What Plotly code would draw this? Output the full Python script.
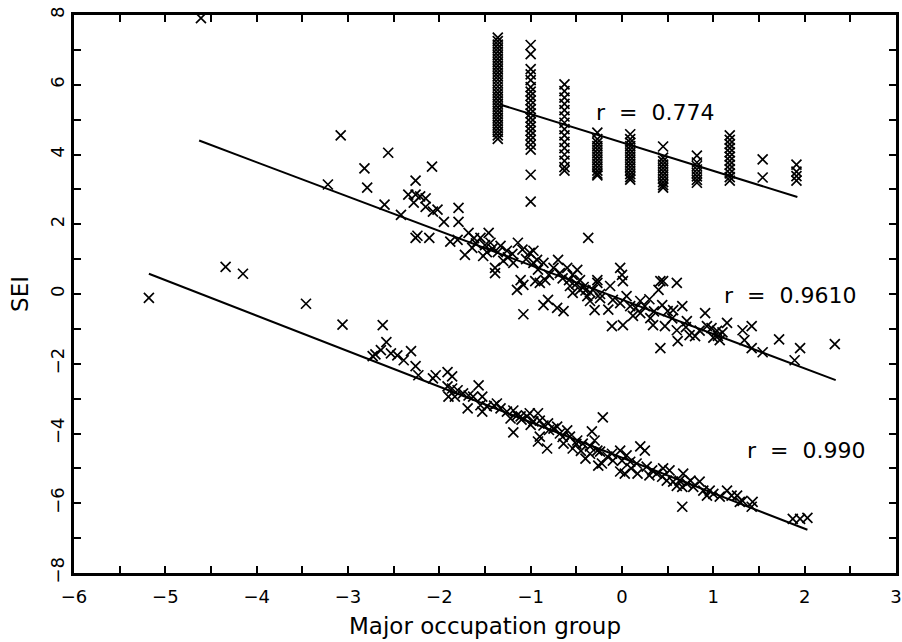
import plotly.graph_objects as go

# ---------------- data ----------------
# top cluster (r = 0.774): discrete x columns
top_cols_x = [-1.36, -1.00, -0.63, -0.27, 0.09, 0.45, 0.82, 1.18, 1.54, 1.91]
top_cols_y = [
    [7.35, 7.25, 7.15, 7.05, 6.95, 6.85, 6.75, 6.65, 6.55, 6.45, 6.35, 6.25, 6.15, 6.05, 5.95,
     5.85, 5.75, 5.65, 5.55, 5.45, 5.35, 5.25, 5.15, 5.05, 4.95, 4.85, 4.75, 4.65, 4.55, 4.45],
    [7.14, 6.88, 6.45, 6.30, 6.13, 5.93, 5.80, 5.68, 5.55, 5.42, 5.30, 5.18, 5.05, 4.93, 4.80,
     4.68, 4.55, 4.42, 4.28, 4.14, 3.42, 2.65],
    [6.01, 5.82, 5.63, 5.45, 5.27, 5.09, 4.91, 4.73, 4.55, 4.36, 4.18, 4.00, 3.82, 3.64, 3.54],
    [4.63, 4.44, 4.34, 4.24, 4.14, 4.04, 3.94, 3.84, 3.74, 3.64, 3.54, 3.45, 3.40],
    [4.58, 4.44, 4.34, 4.24, 4.14, 4.04, 3.94, 3.84, 3.74, 3.64, 3.54, 3.44, 3.35, 3.28],
    [4.23, 3.91, 3.81, 3.71, 3.61, 3.51, 3.41, 3.31, 3.21, 3.12, 3.05],
    [3.97, 3.77, 3.67, 3.57, 3.47, 3.37, 3.27, 3.19],
    [4.55, 4.42, 4.30, 4.18, 4.06, 3.94, 3.82, 3.70, 3.58, 3.46, 3.35, 3.25],
    [3.86, 3.34],
    [3.71, 3.51, 3.38, 3.25],
]

# middle cluster (r = 0.9610)
mid_pts = [
    (-4.61, 7.91), (-3.08, 4.55), (-2.56, 4.05), (-2.82, 3.60), (-2.08, 3.65), (-3.22, 3.14),
    (-2.79, 3.05), (-2.26, 3.25), (-2.34, 2.85), (-2.26, 2.85), (-2.21, 2.80), (-2.15, 2.74),
    (-2.28, 2.62), (-2.15, 2.50), (-2.07, 2.36), (-2.02, 2.42), (-1.79, 2.47), (-1.79, 2.07),
    (-1.95, 2.07), (-2.60, 2.56), (-2.42, 2.27), (-2.26, 1.61), (-2.24, 1.67), (-2.11, 1.61),
    (-1.88, 1.50), (-1.80, 1.55), (-1.68, 1.75), (-1.64, 1.32), (-1.55, 1.61), (-1.46, 1.75),
    (-1.44, 1.47), (-1.72, 1.12), (-1.52, 1.09), (-1.39, 0.75), (-1.39, 0.60), (-1.33, 1.38),
    (-1.26, 1.24), (-1.19, 0.89), (-1.30, 0.95), (-1.14, 1.47), (-1.09, 1.27), (-1.01, 1.18),
    (-0.97, 1.24), (-1.15, 0.12), (-1.11, 0.40), (-1.08, 0.26), (-1.08, -0.58), (-0.97, 0.89),
    (-0.93, 0.98), (-0.86, 0.89), (-0.95, 0.37), (-0.90, 0.32), (-0.84, 0.40), (-0.86, -0.32),
    (-0.81, -0.17), (-0.71, -0.40), (-0.64, -0.49), (-0.75, 0.75), (-0.70, 0.98), (-0.68, 0.60),
    (-0.60, 0.75), (-0.54, 0.55), (-0.49, 0.69), (-0.57, 0.23), (-0.54, 0.03), (-0.46, 0.12),
    (-0.38, -0.06), (-0.32, 0.12), (-0.27, 0.32), (-0.37, 1.61),
    (-1.60, 1.45), (-1.50, 1.40), (-1.42, 1.30), (-1.36, 1.20), (-1.25, 1.05), (-1.20, 1.15),
    (-1.05, 1.00), (-0.92, 0.70), (-0.80, 0.55), (-0.65, 0.45), (-0.58, 0.40), (-0.50, 0.30),
    (-0.42, 0.20), (-0.35, 0.05), (-1.62, 1.60), (-1.48, 1.20),
    (-0.46, 0.40), (-0.40, 0.10), (-0.35, -0.20), (-0.30, -0.46), (-0.24, 0.00), (-0.02, 0.75),
    (0.00, 0.55), (0.01, 0.37), (-0.27, 0.40), (-0.13, 0.23), (-0.24, -0.12), (-0.10, -0.17),
    (-0.02, -0.26), (0.05, -0.06), (0.09, -0.35), (-0.11, -0.92), (0.01, -0.89), (0.12, -0.63),
    (0.20, -0.55), (0.25, -0.35), (0.31, -0.69), (0.34, -0.89), (0.42, 0.37), (0.45, 0.37),
    (0.60, 0.32), (0.40, 0.12), (0.44, -0.32), (0.50, -0.49), (0.56, -0.46), (0.66, -0.35),
    (0.42, -1.55), (0.47, -0.92), (0.60, -1.04), (0.61, -1.35), (0.71, -0.78), (0.74, -1.18),
    (0.80, -1.21), (0.91, -0.55), (0.93, -0.92), (0.98, -0.98), (1.04, -1.06), (1.07, -1.32),
    (1.15, -0.83), (1.00, -1.25), (1.05, -1.20), (1.10, -1.10), (1.32, -1.04), (1.34, -1.32),
    (1.42, -0.92), (1.42, -1.55), (1.54, -1.67), (1.72, -1.30), (1.95, -1.55), (1.89, -1.90),
    (2.33, -1.44), (-0.15, -0.45), (0.15, -0.40), (0.30, -0.15), (0.35, -0.50), (0.55, -0.70),
    (0.70, -0.95), (0.85, -1.05), (0.20, -0.20),
]

# bottom cluster (r = 0.990)
bot_pts = [
    (-5.18, -0.11), (-4.34, 0.78), (-4.15, 0.58), (-3.46, -0.28), (-3.06, -0.88), (-2.62, -0.89),
    (-2.58, -1.38), (-2.64, -1.61), (-2.70, -1.73), (-2.73, -1.78), (-2.46, -1.76), (-2.39, -1.90),
    (-2.31, -1.64), (-2.53, -1.70), (-2.26, -2.07), (-2.23, -2.33), (-2.04, -2.33), (-2.07, -2.42),
    (-1.91, -2.24), (-1.86, -2.36), (-1.91, -2.65), (-1.86, -2.71), (-1.80, -2.76), (-1.90, -2.94),
    (-1.83, -2.94), (-1.74, -2.85), (-1.68, -2.91), (-1.63, -2.94), (-1.57, -2.62), (-1.53, -2.94),
    (-1.69, -3.28), (-1.55, -3.19), (-1.48, -3.22), (-1.53, -3.37), (-1.37, -3.14), (-1.33, -3.28),
    (-1.26, -3.37), (-1.19, -3.34), (-1.15, -3.48), (-1.22, -3.57), (-1.11, -3.51), (-1.04, -3.51),
    (-1.01, -3.42), (-0.92, -3.42), (-1.19, -3.97), (-0.97, -3.65), (-0.90, -3.63), (-0.86, -3.77),
    (-0.81, -3.71), (-0.75, -3.86), (-0.71, -3.80), (-0.92, -4.23), (-0.82, -4.43), (-0.90, -4.09),
    (-0.68, -4.00), (-0.60, -3.91), (-0.57, -4.09), (-0.49, -4.20), (-0.43, -4.29), (-0.35, -4.37),
    (-0.27, -4.49), (-0.33, -3.94), (-0.64, -4.29), (-0.54, -4.43), (-0.40, -4.72), (-0.35, -4.58),
    (-0.26, -4.92), (-0.21, -3.54), (-0.30, -4.20), (-0.24, -4.52), (-0.16, -4.66), (-0.22, -4.86),
    (-0.11, -4.58), (-0.10, -4.78), (-0.02, -4.49), (0.00, -4.78), (0.03, -5.15), (-0.02, -5.09),
    (0.05, -4.63), (0.09, -4.81), (0.20, -4.37), (0.25, -4.49), (0.17, -5.15), (0.16, -4.86),
    (0.27, -4.95), (0.33, -5.06), (0.38, -5.15), (0.44, -5.24), (0.49, -5.35), (0.52, -5.06),
    (0.56, -5.38), (0.63, -5.35), (0.67, -5.15), (0.66, -5.53), (0.71, -5.44), (0.66, -6.10),
    (0.78, -5.53), (0.85, -5.38), (0.89, -5.64), (0.96, -5.64), (1.00, -5.73), (0.93, -5.78),
    (1.07, -5.81), (1.15, -5.64), (1.20, -5.78), (1.26, -5.78), (1.29, -5.96), (1.32, -5.93),
    (1.43, -5.96), (1.42, -6.10), (1.87, -6.45), (1.95, -6.45), (2.03, -6.42),
    (-1.40, -3.20), (-1.10, -3.60), (-0.80, -3.90), (-0.50, -4.30), (-0.45, -4.50), (0.10, -5.00),
    (0.30, -5.20), (0.45, -5.00), (0.60, -5.50), (0.75, -5.35), (-0.65, -4.10), (-1.00, -3.75),
]

# regression lines (end points)
fit_top_x, fit_top_y = [-1.32, 1.92], [5.42, 2.78]
fit_mid_x, fit_mid_y = [-4.63, 2.34], [4.40, -2.47]
fit_bot_x, fit_bot_y = [-5.18, 2.03], [0.58, -6.76]

labels = ["r = 0.774", "r = 0.9610", "r = 0.990"]
label_x = [0.36, 1.84, 2.02]
label_y = [5.20, -0.03, -4.49]

x_ticks = [-6, -5, -4, -3, -2, -1, 0, 1, 2, 3]
y_ticks = [-8, -6, -4, -2, 0, 2, 4, 6, 8]

# ---------------- figure ----------------
FONT = "DejaVu Sans"
marker = dict(symbol="x-thin", size=10, line=dict(width=1.7, color="black"), color="black")

fig = go.Figure()

tx, ty = [], []
for cx, ys in zip(top_cols_x, top_cols_y):
    for v in ys:
        tx.append(cx)
        ty.append(v)
fig.add_trace(go.Scatter(x=tx, y=ty, mode="markers", marker=marker))
fig.add_trace(go.Scatter(x=[p[0] for p in mid_pts], y=[p[1] for p in mid_pts],
                         mode="markers", marker=marker))
fig.add_trace(go.Scatter(x=[p[0] for p in bot_pts], y=[p[1] for p in bot_pts],
                         mode="markers", marker=marker))

for lx, ly in [(fit_top_x, fit_top_y), (fit_mid_x, fit_mid_y), (fit_bot_x, fit_bot_y)]:
    fig.add_trace(go.Scatter(x=lx, y=ly, mode="lines", line=dict(color="black", width=2)))

for t, ax_, ay_ in zip(labels, label_x, label_y):
    fig.add_annotation(x=ax_, y=ay_, xref="x", yref="y",
                       text=t.replace(" ", "\u00a0\u00a0"), showarrow=False,
                       font=dict(family=FONT, size=22, color="black"))

axis_common = dict(
    showgrid=False, zeroline=False, showline=True, linecolor="black", linewidth=2.5,
    mirror="ticks", ticks="inside", ticklen=7, tickwidth=1.5, tickcolor="black",
    tickfont=dict(family=FONT, size=18, color="black"), automargin=False,
    ticklabeloverflow="allow",
)

fig.update_xaxes(
    range=[-6, 3], tickvals=x_ticks, ticktext=[str(v).replace("-", "\u2212") for v in x_ticks],
    minor=dict(ticks="inside", dtick=0.5, tick0=0, ticklen=7, tickwidth=1.5, tickcolor="black"),
    title=dict(text="Major occupation group", font=dict(family=FONT, size=23, color="black"),
               standoff=12),
    ticklabelstandoff=6,
    **axis_common,
)
fig.update_yaxes(
    range=[-8, 8], tickvals=y_ticks, ticktext=[str(v).replace("-", "\u2212") for v in y_ticks],
    tickangle=-90,
    minor=dict(ticks="inside", dtick=1, tick0=0, ticklen=7, tickwidth=1.5, tickcolor="black"),
    title=dict(text="SEI", font=dict(family=FONT, size=23, color="black"), standoff=12),
    ticklabelstandoff=0,
    **axis_common,
)

fig.update_layout(
    width=902, height=642,
    margin=dict(l=74, r=6, t=15, b=69, autoexpand=False),
    paper_bgcolor="white", plot_bgcolor="white",
    showlegend=False,
)

fig.write_html("out.html", config={"displayModeBar": False},
               post_script="document.body.style.margin='0';")
